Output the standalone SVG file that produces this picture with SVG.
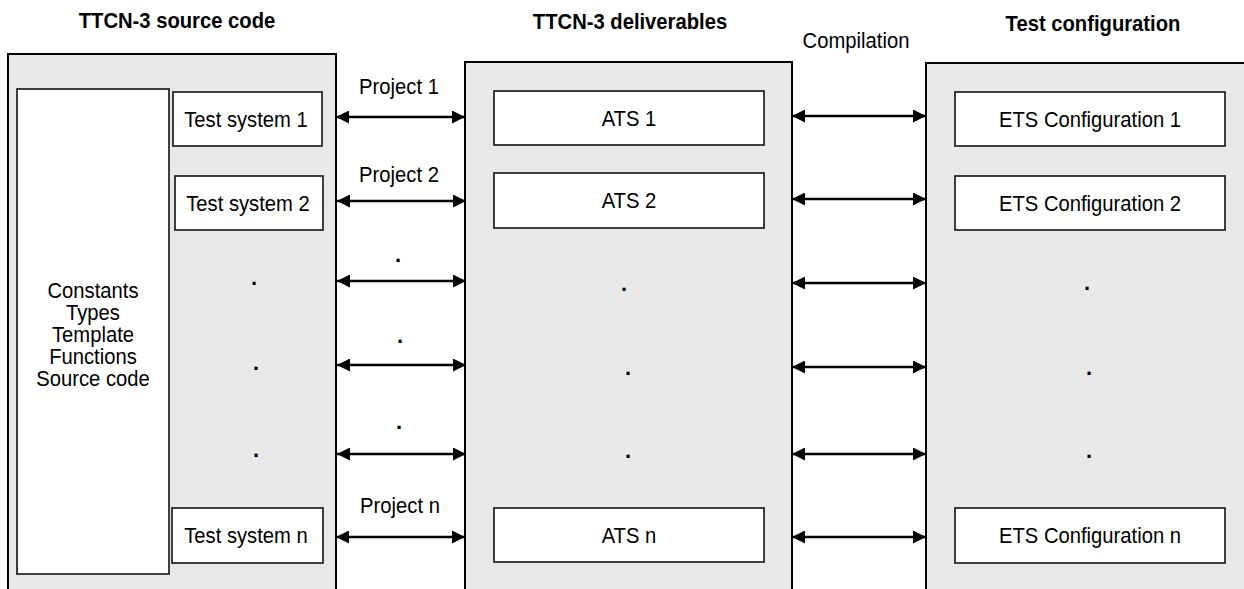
<svg xmlns="http://www.w3.org/2000/svg" width="1244" height="589" viewBox="0 0 1244 589">
<defs>
<marker id="ah" viewBox="0 0 13 13" refX="13" refY="6.5" markerWidth="13" markerHeight="13" markerUnits="userSpaceOnUse" orient="auto-start-reverse">
<path d="M0,0 L13,6.5 L0,13 Z" fill="#000"/>
</marker>
<style>
.panel{fill:#e8e8e8;stroke:#000;stroke-width:2}
.box{fill:#fff;stroke:#111;stroke-width:1.6}
.t{font-family:"Liberation Sans",Arial,sans-serif;font-size:22px;fill:#000;text-anchor:middle;transform-box:fill-box;transform-origin:center;transform:scaleX(0.92)}
.h{font-family:"Liberation Sans",Arial,sans-serif;font-size:21.5px;font-weight:bold;fill:#000;text-anchor:middle;transform-box:fill-box;transform-origin:center;transform:scaleX(0.94)}
.d{font-family:"Liberation Sans",Arial,sans-serif;font-size:22px;font-weight:bold;fill:#000;text-anchor:middle}
.a{stroke:#000;stroke-width:2.6;fill:none;marker-start:url(#ah);marker-end:url(#ah)}
</style>
</defs>
<rect width="1244" height="589" fill="#fff"/>
<text class="h" x="177" y="28">TTCN-3 source code</text>
<text class="h" x="630" y="29">TTCN-3 deliverables</text>
<text class="h" x="1093" y="31">Test configuration</text>
<text class="t" x="856" y="48">Compilation</text>

<g id="source-panel">
<rect class="panel" x="8" y="54" width="328" height="560"/>
</g>
<g id="constants">
<rect class="box" x="17" y="89" width="152" height="485"/>
<text class="t" x="93" y="298">Constants</text>
<text class="t" x="93" y="320">Types</text>
<text class="t" x="93" y="342">Template</text>
<text class="t" x="93" y="364">Functions</text>
<text class="t" x="93" y="386">Source code</text>
</g>
<g id="ts1"><rect class="box" x="173" y="92" width="149" height="54"/><text class="t" x="246" y="127">Test system 1</text></g>
<g id="ts2"><rect class="box" x="175" y="176" width="148" height="54"/><text class="t" x="248" y="211">Test system 2</text></g>
<g id="tsn"><rect class="box" x="172" y="508" width="151" height="55"/><text class="t" x="246" y="543">Test system n</text></g>
<g id="src-dots">
<text class="d" x="254" y="285">.</text>
<text class="d" x="256" y="370">.</text>
<text class="d" x="256" y="457">.</text>
</g>

<g id="deliv-panel">
<rect class="panel" x="465" y="62" width="327" height="560"/>
</g>
<g id="ats1"><rect class="box" x="494" y="91" width="270" height="54"/><text class="t" x="629" y="126">ATS 1</text></g>
<g id="ats2"><rect class="box" x="494" y="173" width="270" height="55"/><text class="t" x="629" y="208">ATS 2</text></g>
<g id="atsn"><rect class="box" x="494" y="508" width="270" height="54"/><text class="t" x="629" y="543">ATS n</text></g>
<g id="ats-dots">
<text class="d" x="624" y="291">.</text>
<text class="d" x="628" y="375">.</text>
<text class="d" x="628" y="458">.</text>
</g>

<g id="config-panel">
<rect class="panel" x="926" y="63" width="330" height="560"/>
</g>
<g id="ets1"><rect class="box" x="955" y="92" width="270" height="54"/><text class="t" x="1090" y="127">ETS Configuration 1</text></g>
<g id="ets2"><rect class="box" x="955" y="176" width="270" height="54"/><text class="t" x="1090" y="211">ETS Configuration 2</text></g>
<g id="etsn"><rect class="box" x="955" y="508" width="270" height="55"/><text class="t" x="1090" y="543">ETS Configuration n</text></g>
<g id="ets-dots">
<text class="d" x="1087" y="290">.</text>
<text class="d" x="1089" y="375">.</text>
<text class="d" x="1089" y="458">.</text>
</g>

<g id="connectors">
<line class="a" x1="336" y1="117" x2="465" y2="117"/>
<line class="a" x1="337" y1="201" x2="466" y2="201"/>
<line class="a" x1="337" y1="281" x2="466" y2="281"/>
<line class="a" x1="337" y1="365" x2="466" y2="365"/>
<line class="a" x1="337" y1="454" x2="466" y2="454"/>
<line class="a" x1="336" y1="537" x2="465" y2="537"/>
<line class="a" x1="792" y1="116" x2="926" y2="116"/>
<line class="a" x1="792" y1="199" x2="926" y2="199"/>
<line class="a" x1="792" y1="283" x2="926" y2="283"/>
<line class="a" x1="792" y1="367" x2="926" y2="367"/>
<line class="a" x1="792" y1="454" x2="926" y2="454"/>
<line class="a" x1="792" y1="537" x2="926" y2="537"/>
<text class="t" x="399" y="94">Project 1</text>
<text class="t" x="399" y="182">Project 2</text>
<text class="d" x="398" y="262">.</text>
<text class="d" x="400" y="343">.</text>
<text class="d" x="399" y="429">.</text>
<text class="t" x="400" y="513">Project n</text>
</g>
</svg>
